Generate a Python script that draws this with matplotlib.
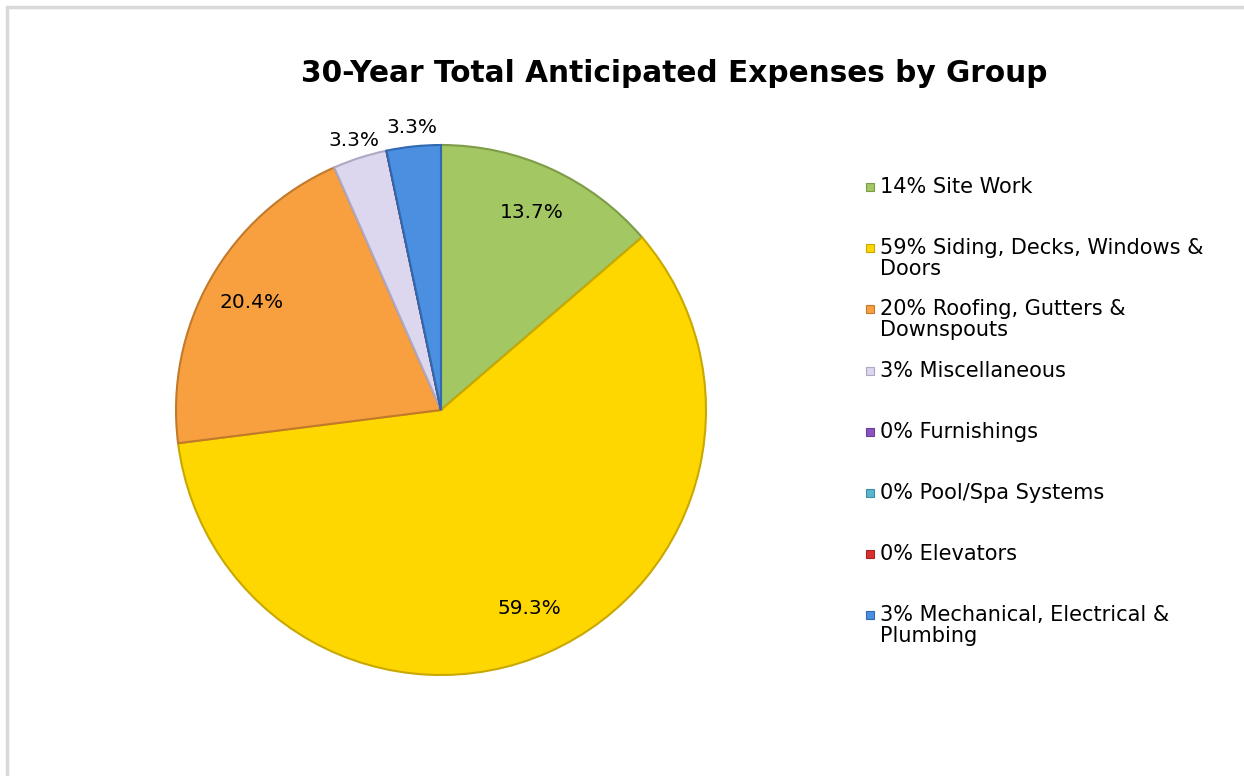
import numpy as np
import matplotlib
matplotlib.use("Agg")
import matplotlib.pyplot as plt
from matplotlib.patches import Rectangle

# data
groups = ["Site Work", "Siding, Decks, Windows &\nDoors", "Roofing, Gutters &\nDownspouts",
          "Miscellaneous", "Furnishings", "Pool/Spa Systems", "Elevators",
          "Mechanical, Electrical &\nPlumbing"]
shares = [13.7, 59.3, 20.4, 3.3, 0.0, 0.0, 0.0, 3.3]
legend_pct = ["14%", "59%", "20%", "3%", "0%", "0%", "0%", "3%"]
colors = ["#A3C763", "#FFD700", "#F8A040", "#DCD6EE", "#8B55C0", "#5BB5CF", "#D83030", "#4A8FE0"]
edges = ["#7E9C48", "#C9A800", "#C27A2A", "#AFA8C4", "#6A3E96", "#3E8EA6", "#A82222", "#3069B0"]

W, H = 1244, 776
fig = plt.figure(figsize=(W / 100, H / 100), dpi=100)
fig.patch.set_facecolor("white")

# outer light border (runs off right and bottom)
fig.patches.append(Rectangle((7 / W, -0.1), 1.2, 1 - 7 / H + 0.1, transform=fig.transFigure,
                             fill=False, edgecolor="#D9D9D9", linewidth=2.5))

fig.text(674 / W, 1 - 73 / H, "30-Year Total Anticipated Expenses by Group",
         ha="center", va="center", fontsize=21.3, fontweight="bold", color="black")

cx, cy, r = 441, 410, 265
pad = 1.02
ax = fig.add_axes([(cx - r * pad) / W, (H - cy - r * pad) / H, 2 * r * pad / W, 2 * r * pad / H])

wedges, _ = ax.pie(shares, colors=colors, startangle=90, counterclock=False, radius=1.0,
                   wedgeprops=dict(linewidth=1.5))
for w, ec in zip(wedges, edges):
    w.set_edgecolor(ec)
ax.set_xlim(-pad, pad)
ax.set_ylim(-pad, pad)
ax.set_aspect("equal")
ax.axis("off")

# data labels
total = sum(shares)
ang = 90.0
for v in shares:
    if v > 0:
        mid = np.deg2rad(ang - 360 * v / total / 2)
        rr = 0.82 if v > 5 else 1.07
        ax.text(rr * np.cos(mid), rr * np.sin(mid), f"{v:.1f}%", ha="center", va="center",
                fontsize=14.5, color="black")
    ang -= 360 * v / total

# legend
for i, (p, g, c, ec) in enumerate(zip(legend_pct, groups, colors, edges)):
    y = 187 + 61.2 * i
    fig.patches.append(Rectangle((866 / W, 1 - (y + 4) / H), 8 / W, 8 / H, transform=fig.transFigure,
                                 facecolor=c, edgecolor=ec, linewidth=0.8))
    fig.text(880 / W, 1 - (y - 10) / H, f"{p} {g}", ha="left", va="top", fontsize=15,
             color="black", linespacing=1.05)

fig.savefig("out.png", dpi=100)
